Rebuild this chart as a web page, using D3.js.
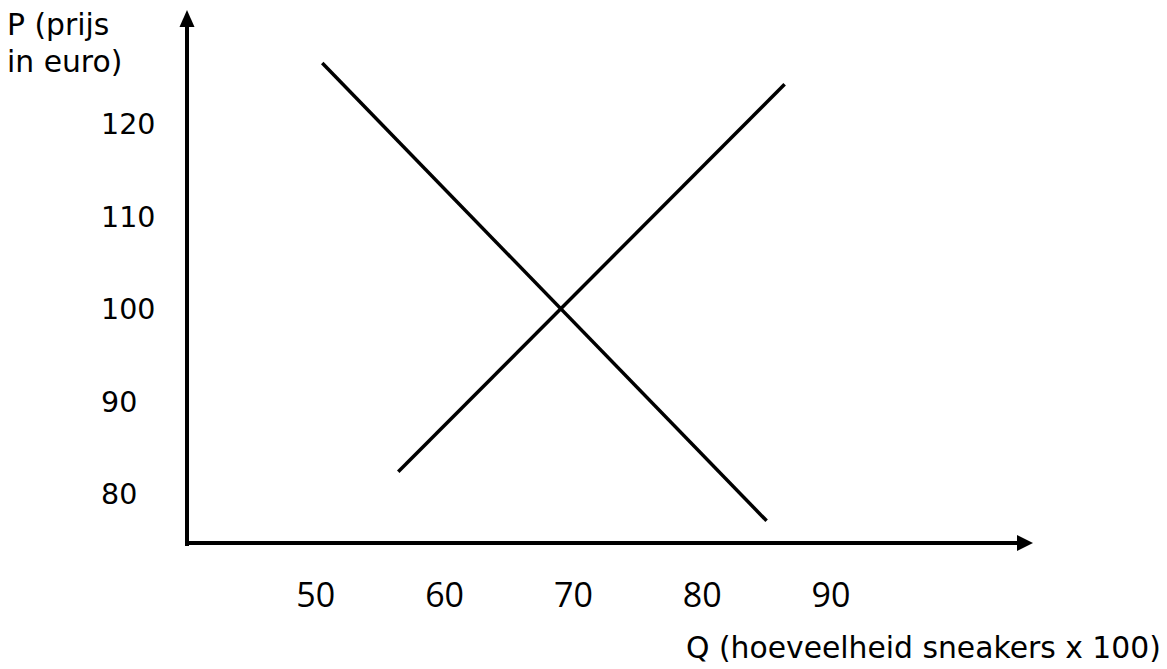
<!DOCTYPE html>
<html>
<head>
<meta charset="utf-8">
<script src="https://cdn.jsdelivr.net/npm/d3@7"></script>
<style>
  body { margin: 0; background: #fff; }
  svg { display: block; }
</style>
</head>
<body>
<div id="chart"></div>
<script>
// values
var qTicks = [50, 60, 70, 80, 90];
var pTicks = [80, 90, 100, 110, 120];
var demand = [{q: 50.5, p: 126.6}, {q: 85.0, p: 77.1}];
var supply = [{q: 56.4, p: 82.4}, {q: 86.4, p: 124.3}];
var yTitle = ["P (prijs", "in euro)"];
var xTitle = "Q (hoeveelheid sneakers x 100)";

var width = 1167, height = 669;
var origin = { x: 187, y: 543 };

var svg = d3.select("#chart").append("svg")
    .attr("width", width)
    .attr("height", height);

var x = d3.scaleLinear()
    .domain([40, 100])
    .range([origin.x, origin.x + 60 * 12.88]);

var y = d3.scaleLinear()
    .domain([80, 120])
    .range([494, 124]);

var ink = "#000";
var verdana = "'DejaVu Sans', Verdana, sans-serif";

// axes with arrow heads
svg.append("line")
    .attr("x1", origin.x).attr("y1", origin.y + 3)
    .attr("x2", origin.x).attr("y2", 24)
    .attr("stroke", ink).attr("stroke-width", 4);
svg.append("path")
    .attr("d", "M" + (origin.x - 7.5) + ",27 L" + origin.x + ",10 L" + (origin.x + 7.5) + ",27 Z")
    .attr("fill", ink);

svg.append("line")
    .attr("x1", origin.x + 2).attr("y1", origin.y)
    .attr("x2", 1020).attr("y2", origin.y)
    .attr("stroke", ink).attr("stroke-width", 4);
svg.append("path")
    .attr("d", "M1017," + (origin.y - 8) + " L1033," + origin.y + " L1017," + (origin.y + 8) + " Z")
    .attr("fill", ink);

// tick labels (no tick marks in the original)
svg.append("g")
    .selectAll("text")
    .data(pTicks)
    .enter().append("text")
    .attr("x", 101)
    .attr("y", function(d) { return y(d); })
    .attr("dy", "0.36em")
    .attr("font-family", verdana)
    .attr("font-size", 28.5)
    .attr("fill", ink)
    .text(function(d) { return d; });

svg.append("g")
    .selectAll("text")
    .data(qTicks)
    .enter().append("text")
    .attr("x", function(d) { return x(d); })
    .attr("y", 607)
    .attr("text-anchor", "middle")
    .attr("font-family", "'Open Sans', sans-serif")
    .attr("font-size", 34)
    .attr("fill", ink)
    .text(function(d) { return d; });

// demand and supply lines
var line = d3.line()
    .x(function(d) { return x(d.q); })
    .y(function(d) { return y(d.p); });

svg.selectAll(".curve")
    .data([demand, supply])
    .enter().append("path")
    .attr("class", "curve")
    .attr("d", line)
    .attr("fill", "none")
    .attr("stroke", ink)
    .attr("stroke-width", 3.5);

// axis titles
svg.append("g")
    .selectAll("text")
    .data(yTitle)
    .enter().append("text")
    .attr("x", 7)
    .attr("y", function(d, i) { return 35 + i * 37; })
    .attr("font-family", verdana)
    .attr("font-size", 29.8)
    .attr("fill", ink)
    .text(function(d) { return d; });

svg.append("text")
    .attr("x", 686)
    .attr("y", 658)
    .attr("font-family", verdana)
    .attr("font-size", 29.8)
    .attr("fill", ink)
    .text(xTitle);
</script>
</body>
</html>
